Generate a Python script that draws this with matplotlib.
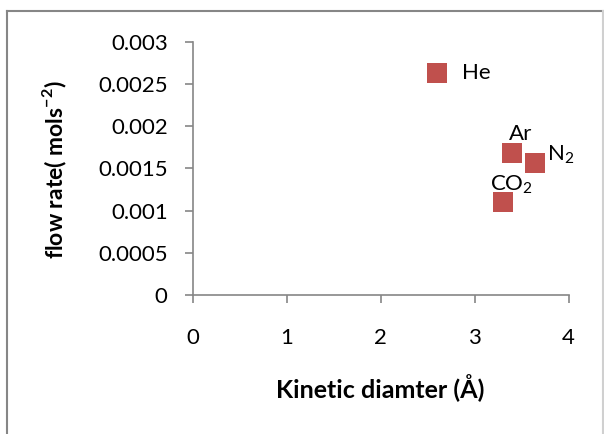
import matplotlib
matplotlib.use("Agg")
import matplotlib.pyplot as plt
from matplotlib.lines import Line2D

gases = ["He", "Ar", "N$_2$", "CO$_2$"]
kinetic_diameter = [2.60, 3.40, 3.64, 3.30]
flow_rate = [0.00263, 0.00168, 0.00156, 0.00110]
label_offsets = [(25, 0), (8, 19), (12, 9), (9, 17)]
label_ha = ["left", "center", "left", "center"]
x_ticks = [0, 1, 2, 3, 4]
y_ticks = [0, 0.0005, 0.001, 0.0015, 0.002, 0.0025, 0.003]
y_ticklabels = ["0", "0.0005", "0.001", "0.0015", "0.002", "0.0025", "0.003"]

plt.rcParams['font.family'] = ['Lato', 'DejaVu Sans']
plt.rcParams['mathtext.fontset'] = 'custom'
plt.rcParams['mathtext.rm'] = 'Lato'
plt.rcParams['mathtext.bf'] = 'Lato:bold'

W, H = 604, 434
fig = plt.figure(figsize=(W/100, H/100), dpi=100)
ax = fig.add_axes([192.7/W, 1-295/H, (568.7-192.7)/W, (295-41.7)/H])

ax.scatter(kinetic_diameter, flow_rate, marker='s', s=200, color='#C0504D', zorder=3, linewidths=0)
for g, x, y, off, ha in zip(gases, kinetic_diameter, flow_rate, label_offsets, label_ha):
    ax.annotate(g, (x, y), xytext=off, textcoords='offset pixels', ha=ha, va='center', fontsize=16, color='black')

ax.set_xlim(0, 4)
ax.set_ylim(0, 0.003)
ax.set_xticks(x_ticks)
ax.set_xticklabels([str(t) for t in x_ticks])
ax.set_yticks(y_ticks)
ax.set_yticklabels(y_ticklabels)
for s in ['top', 'right']:
    ax.spines[s].set_visible(False)
for s in ['left', 'bottom']:
    ax.spines[s].set_color('#868686')
    ax.spines[s].set_linewidth(1.2)
ax.tick_params(axis='both', direction='out', length=6, width=1.2, color='#868686', labelsize=16)
ax.tick_params(axis='y', pad=12)
ax.tick_params(axis='x', pad=18)

fig.text(55/W, 1-170/H, r"flow rate( mols$^{\mathbf{-2}}$)", rotation=90, ha='center', va='center', fontsize=16.5, fontweight='bold')
fig.text(380/W, 1-388/H, "Kinetic diamter (Å)", ha='center', va='center', fontsize=18, fontweight='bold')

# chart border
fig.add_artist(Line2D([7/W, 7/W], [0, 1-11/H], transform=fig.transFigure, color='#868686', lw=1.5))
fig.add_artist(Line2D([7/W, 602.5/W], [1-11/H, 1-11/H], transform=fig.transFigure, color='#868686', lw=1.5))
fig.add_artist(Line2D([602.5/W, 602.5/W], [0, 1-11/H], transform=fig.transFigure, color='#d0d0d0', lw=1.5))

fig.savefig("out.png", dpi=100)
